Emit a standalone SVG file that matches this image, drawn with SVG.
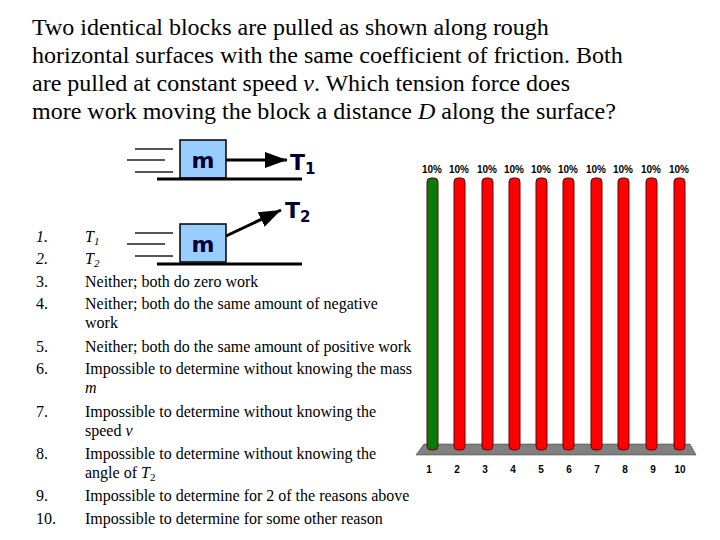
<svg xmlns="http://www.w3.org/2000/svg" width="720" height="540" viewBox="0 0 720 540">
<style>
.t{font-family:"Liberation Serif",serif;font-size:24px;fill:#000}
.l{font-family:"Liberation Serif",serif;font-size:16px;fill:#000}
.b{fill:#99ccff;stroke:#000;stroke-width:1.5}
.g{stroke:#000;stroke-width:3}
.s{stroke:#555;stroke-width:2}
.m{font-family:"DejaVu Sans",sans-serif;font-weight:bold;font-size:22px;fill:#003}
.p{font-family:"Liberation Sans",sans-serif;font-weight:bold;font-size:10px;fill:#000}
.bar{stroke:#600;stroke-width:1}
</style>
<defs>
<marker id="a" markerWidth="22" markerHeight="16" refX="22" refY="8" orient="auto" markerUnits="userSpaceOnUse"><path d="M0,0L22,8L0,16z" fill="#000"/></marker></defs>
<text class="t" x="32" y="35">Two identical blocks are pulled as shown along rough</text>
<text class="t" x="32" y="63">horizontal surfaces with the same coefficient of friction. Both</text>
<text class="t" x="32" y="91">are pulled at constant speed <tspan font-style="italic">v</tspan>. Which tension force does</text>
<text class="t" x="32" y="119">more work moving the block a distance <tspan font-style="italic">D</tspan> along the surface?</text>
<g id="block1">
<line class="s" x1="135" y1="149" x2="173" y2="149"/><line class="s" x1="127" y1="160" x2="165" y2="160"/><line class="s" x1="135" y1="172" x2="173" y2="172"/>
<rect class="b" x="180" y="140" width="46" height="38"/><text class="m" x="203" y="168" text-anchor="middle">m</text>
<line class="g" x1="157" y1="179" x2="302" y2="179"/>
</g>
<g id="block2">
<line class="s" x1="135" y1="233" x2="173" y2="233"/><line class="s" x1="127" y1="244" x2="165" y2="244"/><line class="s" x1="135" y1="256" x2="173" y2="256"/>
<rect class="b" x="180" y="224" width="46" height="38"/><text class="m" x="203" y="252" text-anchor="middle">m</text>
<line class="g" x1="157" y1="264" x2="302" y2="264"/>
</g>
<g id="connectors">
<line x1="226" y1="160" x2="287" y2="160" stroke="#000" stroke-width="3" marker-end="url(#a)"/>
<line x1="226" y1="236" x2="281" y2="210" stroke="#000" stroke-width="3" marker-end="url(#a)"/>
</g>
<text class="m" x="290" y="170">T<tspan font-size="15" dy="4">1</tspan></text>
<text class="m" x="285" y="218">T<tspan font-size="15" dy="4">2</tspan></text>
<g id="list" class="l">
<text x="36" y="242" font-style="italic">1.</text><text x="85" y="242" font-style="italic">T<tspan font-size="11" dy="3">1</tspan></text>
<text x="36" y="264" font-style="italic">2.</text><text x="85" y="264" font-style="italic">T<tspan font-size="11" dy="3">2</tspan></text>
<text x="36" y="287">3.</text><text x="85" y="287">Neither; both do zero work</text>
<text x="36" y="309">4.</text><text x="85" y="309">Neither; both do the same amount of negative</text><text x="85" y="328">work</text>
<text x="36" y="352">5.</text><text x="85" y="352">Neither; both do the same amount of positive work</text>
<text x="36" y="374">6.</text><text x="85" y="374">Impossible to determine without knowing the mass</text><text x="85" y="393" font-style="italic">m</text>
<text x="36" y="417">7.</text><text x="85" y="417">Impossible to determine without knowing the</text><text x="85" y="436">speed <tspan font-style="italic">v</tspan></text>
<text x="36" y="459">8.</text><text x="85" y="459">Impossible to determine without knowing the</text><text x="85" y="478">angle of <tspan font-style="italic">T</tspan><tspan font-size="11" dy="3">2</tspan></text>
<text x="36" y="501">9.</text><text x="85" y="501">Impossible to determine for 2 of the reasons above</text>
<text x="36" y="524">10.</text><text x="85" y="524">Impossible to determine for some other reason</text>
</g>
<g id="chart">
<polygon points="424,444 690,444 696,455 416,455" fill="#808080" stroke="#333" stroke-width="0.5"/>
<rect class="bar" x="427" y="178" width="11" height="272" rx="4" fill="#0a7a0a" stroke="#030"/>
<rect class="bar" x="454" y="178" width="11" height="272" rx="4" fill="#f00"/>
<rect class="bar" x="482" y="178" width="11" height="272" rx="4" fill="#f00"/>
<rect class="bar" x="509" y="178" width="11" height="272" rx="4" fill="#f00"/>
<rect class="bar" x="536" y="178" width="11" height="272" rx="4" fill="#f00"/>
<rect class="bar" x="563" y="178" width="11" height="272" rx="4" fill="#f00"/>
<rect class="bar" x="591" y="178" width="11" height="272" rx="4" fill="#f00"/>
<rect class="bar" x="618" y="178" width="11" height="272" rx="4" fill="#f00"/>
<rect class="bar" x="646" y="178" width="11" height="272" rx="4" fill="#f00"/>
<rect class="bar" x="674" y="178" width="11" height="272" rx="4" fill="#f00"/>
<g class="p" text-anchor="middle">
<text x="432" y="173">10%</text><text x="459" y="173">10%</text><text x="487" y="173">10%</text><text x="514" y="173">10%</text><text x="541" y="173">10%</text><text x="568" y="173">10%</text><text x="596" y="173">10%</text><text x="623" y="173">10%</text><text x="651" y="173">10%</text><text x="679" y="173">10%</text>
<text x="429" y="473">1</text><text x="457" y="473">2</text><text x="485" y="473">3</text><text x="513" y="473">4</text><text x="541" y="473">5</text><text x="569" y="473">6</text><text x="597" y="473">7</text><text x="625" y="473">8</text><text x="653" y="473">9</text><text x="680" y="473">10</text>
</g>
</g>
</svg>
